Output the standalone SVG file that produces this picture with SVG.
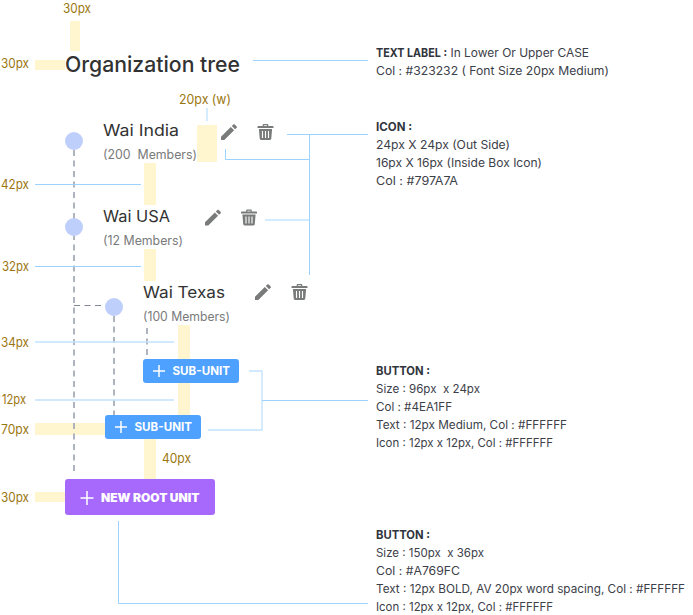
<svg xmlns="http://www.w3.org/2000/svg" width="693" height="615" viewBox="0 0 693 615">
<style>
text{font-family:Inter,"Noto Sans","Liberation Sans",sans-serif}
.y{fill:#FFF6CF}
.b{fill:none;stroke:#9BD2FF;stroke-width:1}
.l{fill:none;stroke:#C4E4FF;stroke-width:1.4}
.d{fill:none;stroke:#A6ADB9;stroke-width:1.8;stroke-dasharray:6 4.500}
.m{font-size:13px;fill:#9B7610}
.n{font-size:16px;fill:#323232}
.s{font-size:12.500px;fill:#797A7A}
.t{font-size:11.500px;fill:#3C4048}
.tb{font-weight:700;fill:#30343C}
.w{font-size:11.500px;font-weight:700;fill:#fff}
.dot{fill:#BFCFFB}
.pl{stroke:#fff;stroke-width:1.5;fill:none}
</style>
<defs>
<g id="pencil"><path fill="#797A7A" d="M0 13.300V16.600H3.300L13.100 6.800 9.800 3.500ZM15.700 4.200a.9.9 0 0 0 0-1.250L13.650.9a.9.9 0 0 0-1.250 0L10.800 2.500l3.300 3.300Z"/></g>
<g id="trash"><path fill="#797A7A" d="M5.200 2V.8Q5.200 0 6 0H10Q10.800 0 10.800.8V2H15.200Q16 2 16 2.800V4H0V2.800Q0 2 .8 2ZM6.400 1.200V2H9.600V1.200ZM1.400 5H14.600L13.800 14.600Q13.700 16 12.400 16H3.600Q2.300 16 2.200 14.600Z"/><path stroke="#fff" stroke-width="1.100" d="M5 7V14M8 7V14M11 7V14"/></g>
</defs>
<g id="guides">
<rect class="y" x="70" y="21" width="10" height="30"/>
<rect class="y" x="35" y="60" width="30" height="10"/>
<rect class="y" x="197" y="125" width="20" height="37"/>
<rect class="y" x="144" y="163" width="12" height="42"/>
<rect class="y" x="144" y="249" width="12" height="32"/>
<rect class="y" x="178" y="325" width="12" height="34"/>
<rect class="y" x="178" y="383" width="12" height="32"/>
<rect class="y" x="35" y="423" width="70" height="12"/>
<rect class="y" x="144" y="439" width="12" height="40"/>
<rect class="y" x="35" y="492" width="30" height="10"/>
<text class="m" x="63" y="13" textLength="28" lengthAdjust="spacingAndGlyphs">30px</text>
<text class="m" x="1" y="68" textLength="28" lengthAdjust="spacingAndGlyphs">30px</text>
<text class="m" x="179" y="104" textLength="52" lengthAdjust="spacingAndGlyphs">20px (w)</text>
<text class="m" x="1" y="189" textLength="28" lengthAdjust="spacingAndGlyphs">42px</text>
<text class="m" x="2" y="271" textLength="27" lengthAdjust="spacingAndGlyphs">32px</text>
<text class="m" x="1" y="347" textLength="28" lengthAdjust="spacingAndGlyphs">34px</text>
<text class="m" x="2" y="404" textLength="24" lengthAdjust="spacingAndGlyphs">12px</text>
<text class="m" x="1" y="434" textLength="28" lengthAdjust="spacingAndGlyphs">70px</text>
<text class="m" x="162" y="463" textLength="29" lengthAdjust="spacingAndGlyphs">40px</text>
<text class="m" x="1" y="502" textLength="28" lengthAdjust="spacingAndGlyphs">30px</text>
</g>
<g id="connectors">
<path class="d" d="M74 150V475"/>
<path class="d" d="M74 305.500H105" style="stroke:#7F8794;stroke-width:1"/>
<path class="d" d="M114 316V415"/>
<path class="d" d="M147 328V358"/>
<path class="b" d="M253 60.500H368"/>
<path class="l" d="M207 108V121"/>
<path class="b" d="M287 134.500H368M309.500 134.500V275M225.500 149V159.500H309.500"/>
<path class="l" d="M265 220H309"/>
<path class="b" d="M35 184.500H141M35 266.500H141"/>
<path class="l" d="M35 342H174M35 400H174"/>
<path class="l" d="M249 371H262V430H208"/>
<path class="b" d="M262 400.500H368"/>
<path class="b" d="M118.500 521V603.500H368"/>
</g>
<g id="title"><text x="65" y="72" font-size="21" fill="#323232" font-weight="500" textLength="175" lengthAdjust="spacingAndGlyphs">Organization tree</text></g>
<g id="node-india">
<circle class="dot" cx="74" cy="141" r="9"/>
<text class="n" x="103" y="136" textLength="76" lengthAdjust="spacingAndGlyphs">Wai India</text>
<text class="s" x="103" y="159" textLength="94" lengthAdjust="spacingAndGlyphs" xml:space="preserve">(200  Members)</text>
<use href="#pencil" x="221" y="123.500"/><use href="#trash" x="257.500" y="124"/>
</g>
<g id="node-usa">
<circle class="dot" cx="74" cy="227" r="9"/>
<text class="n" x="103" y="222" textLength="67" lengthAdjust="spacingAndGlyphs">Wai USA</text>
<text class="s" x="103" y="245" textLength="80" lengthAdjust="spacingAndGlyphs">(12 Members)</text>
<use href="#pencil" x="205" y="209"/><use href="#trash" x="241" y="209.500"/>
</g>
<g id="node-texas">
<circle class="dot" cx="114" cy="307" r="9"/>
<text class="n" x="143" y="298" textLength="82" lengthAdjust="spacingAndGlyphs">Wai Texas</text>
<text class="s" x="143" y="321" textLength="87" lengthAdjust="spacingAndGlyphs">(100 Members)</text>
<use href="#pencil" x="255" y="283.500"/><use href="#trash" x="291.500" y="284"/>
</g>
<g id="btn-sub-1">
<rect x="143" y="359" width="96" height="24" rx="3" fill="#4EA1FF"/>
<path class="pl" d="M159 365V377M153 371H165"/>
<text class="w" x="172.500" y="375" textLength="57.500" lengthAdjust="spacingAndGlyphs">SUB-UNIT</text>
</g>
<g id="btn-sub-2">
<rect x="105" y="415" width="96" height="24" rx="3" fill="#4EA1FF"/>
<path class="pl" d="M121 421V433M115 427H127"/>
<text class="w" x="134.500" y="431" textLength="57.500" lengthAdjust="spacingAndGlyphs">SUB-UNIT</text>
</g>
<g id="btn-root">
<rect x="65" y="479" width="150" height="36" rx="3" fill="#A769FC"/>
<path class="pl" d="M87 491V505M80.500 498H93.500"/>
<text class="w" x="101" y="502" style="font-weight:900" textLength="98.500" lengthAdjust="spacingAndGlyphs">NEW ROOT UNIT</text>
</g>
<g id="notes">
<text class="t tb" x="376" y="57" textLength="71" lengthAdjust="spacingAndGlyphs">TEXT LABEL :</text>
<text class="t" x="450.500" y="57" textLength="138.500" lengthAdjust="spacingAndGlyphs">In Lower Or Upper CASE</text>
<text class="t" x="376" y="75" textLength="233" lengthAdjust="spacingAndGlyphs">Col : #323232 ( Font Size 20px Medium)</text>
<text class="t tb" x="376" y="131" textLength="36" lengthAdjust="spacingAndGlyphs">ICON :</text>
<text class="t" x="376" y="149" textLength="134" lengthAdjust="spacingAndGlyphs">24px X 24px (Out Side)</text>
<text class="t" x="376" y="167" textLength="166" lengthAdjust="spacingAndGlyphs">16px X 16px (Inside Box Icon)</text>
<text class="t" x="376" y="185" textLength="82" lengthAdjust="spacingAndGlyphs">Col : #797A7A</text>
<text class="t tb" x="376" y="375" textLength="54" lengthAdjust="spacingAndGlyphs">BUTTON :</text>
<text class="t" x="376" y="393" textLength="104" lengthAdjust="spacingAndGlyphs" xml:space="preserve">Size : 96px  x 24px</text>
<text class="t" x="376" y="411" textLength="76" lengthAdjust="spacingAndGlyphs">Col : #4EA1FF</text>
<text class="t" x="376" y="429" textLength="191" lengthAdjust="spacingAndGlyphs">Text : 12px Medium, Col : #FFFFFF</text>
<text class="t" x="376" y="447" textLength="177" lengthAdjust="spacingAndGlyphs">Icon : 12px x 12px, Col : #FFFFFF</text>
<text class="t tb" x="376" y="539" textLength="54" lengthAdjust="spacingAndGlyphs">BUTTON :</text>
<text class="t" x="376" y="557" textLength="108" lengthAdjust="spacingAndGlyphs" xml:space="preserve">Size : 150px  x 36px</text>
<text class="t" x="376" y="575" textLength="84" lengthAdjust="spacingAndGlyphs">Col : #A769FC</text>
<text class="t" x="376" y="593" textLength="309" lengthAdjust="spacingAndGlyphs">Text : 12px BOLD, AV 20px word spacing, Col : #FFFFFF</text>
<text class="t" x="376" y="611" textLength="177" lengthAdjust="spacingAndGlyphs">Icon : 12px x 12px, Col : #FFFFFF</text>
</g>
</svg>
